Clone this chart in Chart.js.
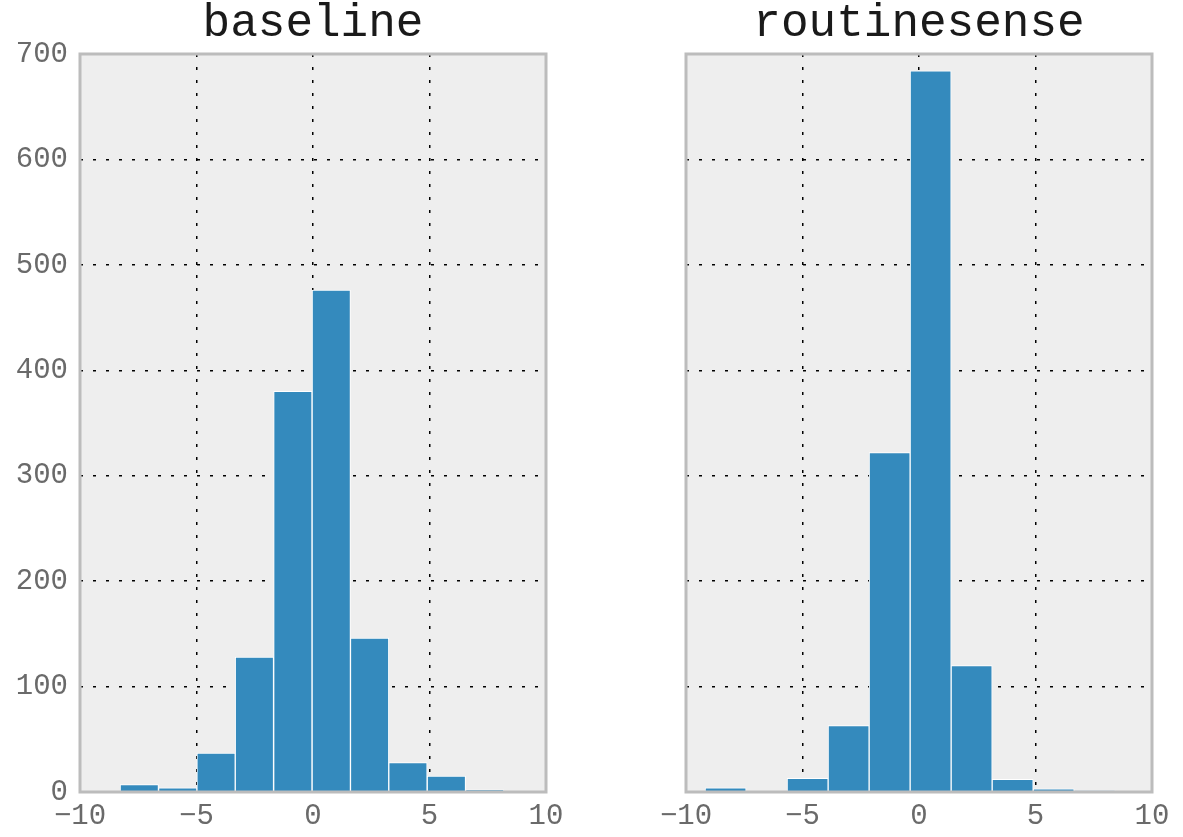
<!DOCTYPE html>
<html>
<head>
<meta charset="utf-8">
<script src="https://cdn.jsdelivr.net/npm/chart.js@4/dist/chart.umd.min.js"></script>
<style>
  html, body { margin: 0; padding: 0; background: #ffffff; }
  #wrap { position: relative; width: 1183px; height: 837px; overflow: hidden; }
  canvas { position: absolute; top: 0; }
  #left { left: 0; }
  #right { left: 606px; }
</style>
</head>
<body>
<div id="wrap">
  <canvas id="left" width="590" height="837"></canvas>
  <canvas id="right" width="577" height="837"></canvas>
</div>
<script>
// Histogram bin edges and counts for each run
const baselineEdges = [-8.28, -6.63, -4.98, -3.34, -1.69, -0.04, 1.61, 3.25, 4.90, 6.55, 8.19];
const baselineCounts = [7, 4, 37, 128, 380, 476, 146, 28, 15, 2];

const routineEdges = [-9.18, -7.42, -5.66, -3.90, -2.14, -0.38, 1.38, 3.14, 4.90, 6.66, 8.42];
const routineCounts = [4, 0, 13, 63, 322, 684, 120, 12, 3, 1];

const xTicks = [-10, -5, 0, 5, 10];
const yTicks = [0, 100, 200, 300, 400, 500, 600, 700];

const BAR = '#348ABD';
const PANEL_BG = '#eeeeee';
const FRAME = '#bcbcbc';
const TICK_COLOR = '#6a6a6a';
const TICK_FONT = { family: 'Liberation Mono', size: 29, weight: 'normal' };
const TITLE_FONT = { family: 'Liberation Mono', size: 46, weight: 'normal', lineHeight: 1 };

function binPoints(edges, counts) {
  return counts.map((c, i) => ({ x: (edges[i] + edges[i + 1]) / 2, y: c }));
}

// tick labels use a true minus sign
const fmt = (v) => String(v).replace('-', '\u2212');

// panel background below everything, grey frame on top
const panelFrame = {
  id: 'panelFrame',
  beforeDraw(chart) {
    const a = chart.chartArea, ctx = chart.ctx;
    ctx.save();
    ctx.fillStyle = PANEL_BG;
    ctx.fillRect(a.left, a.top, a.right - a.left, a.bottom - a.top);
    ctx.restore();
  },
  afterDraw(chart) {
    const a = chart.chartArea, ctx = chart.ctx;
    ctx.save();
    ctx.strokeStyle = FRAME;
    ctx.lineWidth = 3;
    ctx.strokeRect(a.left, a.top, a.right - a.left, a.bottom - a.top);
    ctx.restore();
  }
};

function makeHist(canvasId, title, edges, counts, showY, padRight) {
  return new Chart(document.getElementById(canvasId), {
    type: 'bar',
    data: {
      datasets: [{
        data: binPoints(edges, counts),
        backgroundColor: BAR,
        borderColor: '#ffffff',
        borderWidth: 1,
        borderSkipped: 'start',
        barPercentage: 1,
        categoryPercentage: 1
      }]
    },
    options: {
      responsive: false,
      animation: false,
      events: [],
      layout: { padding: { left: 0, right: padRight, top: 0, bottom: 0 } },
      plugins: {
        legend: { display: false },
        tooltip: { enabled: false },
        title: {
          display: true,
          text: title,
          color: '#1a1a1a',
          font: TITLE_FONT,
          fullSize: false,
          padding: { top: 1, bottom: 7 }
        }
      },
      scales: {
        x: {
          type: 'linear',
          offset: false,
          min: -10,
          max: 10,
          afterBuildTicks(scale) { scale.ticks = xTicks.map(v => ({ value: v })); },
          afterFit(scale) { scale.height = 45; },
          ticks: { color: TICK_COLOR, font: TICK_FONT, padding: 7, maxRotation: 0, autoSkip: false, callback: fmt },
          grid: {
            offset: false,
            color: (ctx) => (ctx.tick && (ctx.tick.value === -10 || ctx.tick.value === 10)) ? 'rgba(0,0,0,0)' : '#000000',
            lineWidth: 1.5,
            drawTicks: false
          },
          border: { display: false, dash: [3, 10] }
        },
        y: {
          min: 0,
          max: 700,
          afterBuildTicks(scale) { scale.ticks = yTicks.map(v => ({ value: v })); },
          afterFit(scale) { scale.width = 80; },
          ticks: { display: showY, color: TICK_COLOR, font: TICK_FONT, padding: 12, autoSkip: false, callback: fmt },
          grid: {
            color: (ctx) => (ctx.tick && (ctx.tick.value === 0 || ctx.tick.value === 700)) ? 'rgba(0,0,0,0)' : '#000000',
            lineWidth: 1.5,
            drawTicks: false
          },
          border: { display: false, dash: [3, 10] }
        }
      }
    },
    plugins: [panelFrame]
  });
}

makeHist('left', 'baseline', baselineEdges, baselineCounts, true, 44);
makeHist('right', 'routinesense', routineEdges, routineCounts, false, 31);
</script>
</body>
</html>
